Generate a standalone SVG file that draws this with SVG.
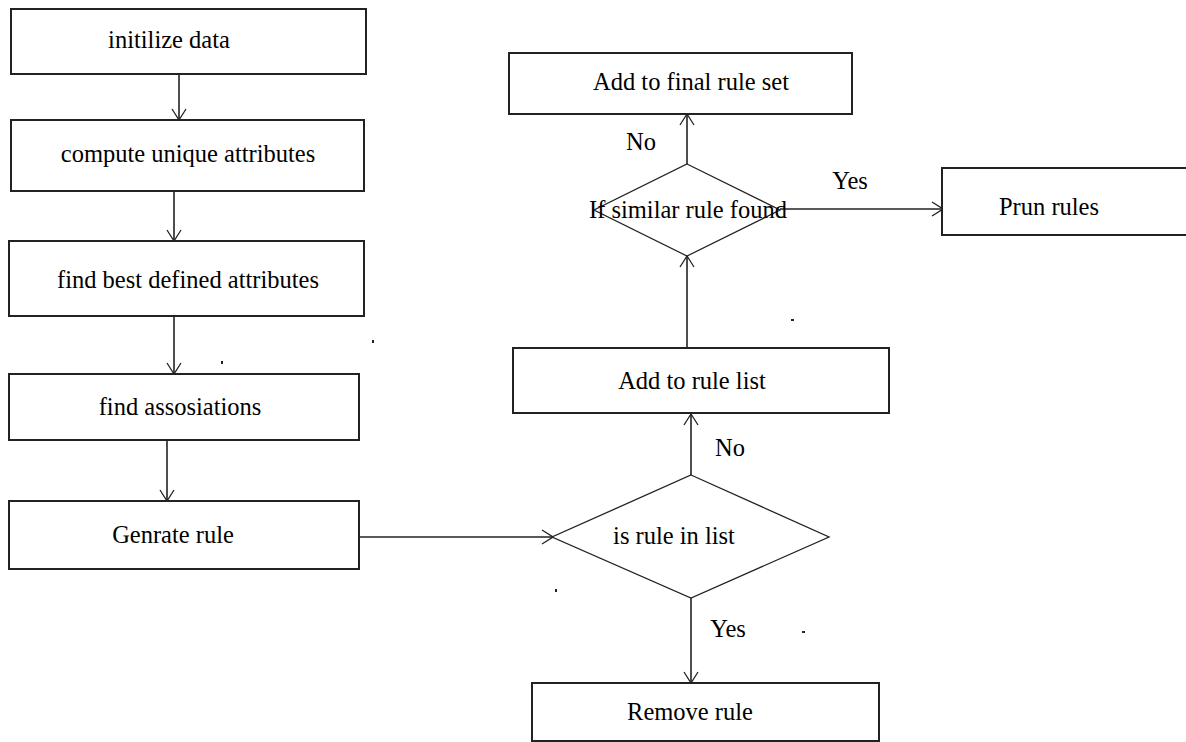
<svg xmlns="http://www.w3.org/2000/svg" width="1186" height="742" viewBox="0 0 1186 742">
<defs>
<style>
.box{fill:#fff;stroke:#222;stroke-width:2}
.dia{fill:#fff;stroke:#222;stroke-width:1.3}
.t{font-family:"Liberation Serif","Times New Roman",serif;font-size:24.5px;fill:#000;text-anchor:middle}
.c{stroke:#222;stroke-width:1.6;fill:none}
.dot{fill:#222}
</style>
<marker id="ah" viewBox="0 0 14 16" refX="13" refY="8" markerWidth="14" markerHeight="16" markerUnits="userSpaceOnUse" orient="auto">
<path d="M2,1 L13,8 L2,15" fill="none" stroke="#222" stroke-width="1.3"/>
</marker>
</defs>
<rect width="1186" height="742" fill="#fff"/>
<g id="connectors">
<line class="c" x1="179" y1="74" x2="179" y2="120" marker-end="url(#ah)"/>
<line class="c" x1="174" y1="191" x2="174" y2="241" marker-end="url(#ah)"/>
<line class="c" x1="174" y1="316" x2="174" y2="374" marker-end="url(#ah)"/>
<line class="c" x1="167" y1="440" x2="167" y2="501" marker-end="url(#ah)"/>
<line class="c" x1="359" y1="537" x2="553" y2="537" marker-end="url(#ah)"/>
<line class="c" x1="691" y1="475" x2="691" y2="414" marker-end="url(#ah)"/>
<line class="c" x1="691" y1="598" x2="691" y2="683" marker-end="url(#ah)"/>
<line class="c" x1="687" y1="348" x2="687" y2="256" marker-end="url(#ah)"/>
<line class="c" x1="687" y1="164" x2="687" y2="114" marker-end="url(#ah)"/>
<line class="c" x1="780" y1="209" x2="943" y2="209" marker-end="url(#ah)"/>
<text class="t" x="730" y="456">No</text>
<text class="t" x="728" y="637">Yes</text>
<text class="t" x="641" y="150">No</text>
<text class="t" x="850" y="189">Yes</text>
</g>
<g id="n1"><rect class="box" x="11" y="9" width="355" height="65"/><text class="t" x="169" y="48">initilize data</text></g>
<g id="n2"><rect class="box" x="11" y="120" width="353" height="71"/><text class="t" x="188" y="162">compute unique attributes</text></g>
<g id="n3"><rect class="box" x="9" y="241" width="355" height="75"/><text class="t" x="188" y="288">find best defined attributes</text></g>
<g id="n4"><rect class="box" x="9" y="374" width="350" height="66"/><text class="t" x="180" y="415">find assosiations</text></g>
<g id="n5"><rect class="box" x="9" y="501" width="350" height="68"/><text class="t" x="173" y="543">Genrate rule</text></g>
<g id="d1"><polygon class="dia" points="691,475 829,537 691,598 552,537"/><text class="t" x="674" y="544">is rule in list</text></g>
<g id="n6"><rect class="box" x="513" y="348" width="376" height="65"/><text class="t" x="692" y="389">Add to rule list</text></g>
<g id="n7"><rect class="box" x="532" y="683" width="347" height="58"/><text class="t" x="690" y="720">Remove rule</text></g>
<g id="d2"><polygon class="dia" points="687,164 780,210 687,256 594,210"/><text class="t" x="688" y="218">If similar rule found</text></g>
<g id="n8"><rect class="box" x="509" y="53" width="343" height="61"/><text class="t" x="691" y="90">Add to final rule set</text></g>
<g id="n9"><rect class="box" x="942" y="168" width="260" height="67"/><text class="t" x="1049" y="215">Prun rules</text></g>
<g id="marks">
<rect class="dot" x="372" y="340" width="2" height="3"/>
<rect class="dot" x="221" y="361" width="2" height="3"/>
<rect class="dot" x="791" y="319" width="3" height="2"/>
<rect class="dot" x="555" y="589" width="2" height="3"/>
<rect class="dot" x="802" y="631" width="3" height="2"/>
</g>
</svg>
